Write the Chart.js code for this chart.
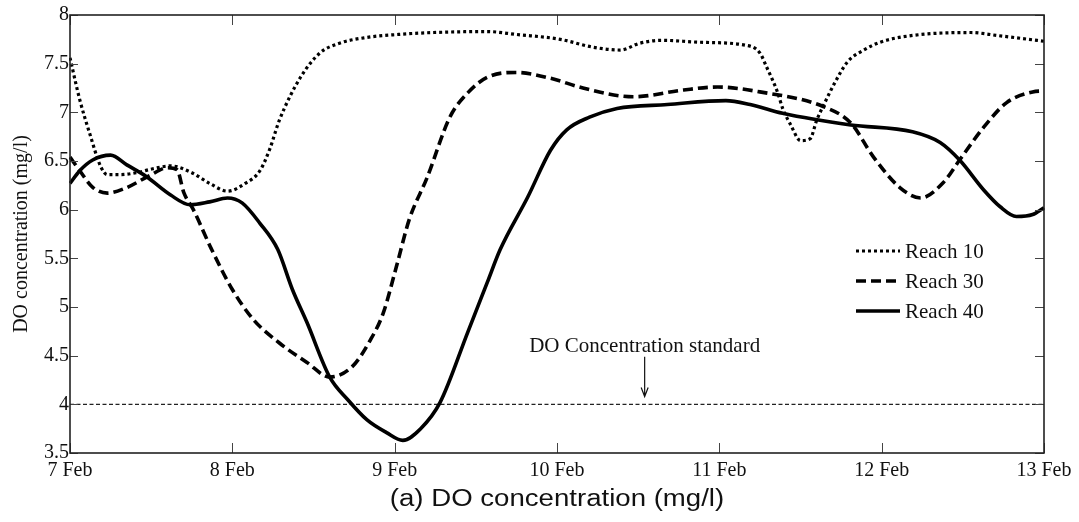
<!DOCTYPE html>
<html>
<head>
<meta charset="utf-8">
<script src="https://cdn.jsdelivr.net/npm/chart.js@4/dist/chart.umd.min.js"></script>
<style>
  html, body { margin: 0; padding: 0; background: #fff; }
  #wrap { width: 1079px; height: 522px; position: relative; }
</style>
</head>
<body>
<div id="wrap"><canvas id="c"></canvas></div>
<script>
// Day offsets from 7 Feb (0 = 7 Feb, 6 = 13 Feb) and DO concentration (mg/l)
const dayLabels = ['7 Feb', '8 Feb', '9 Feb', '10 Feb', '11 Feb', '12 Feb', '13 Feb'];
const yTickValues = [3.5, 4, 4.5, 5, 5.5, 6, 6.5, 7, 7.5, 8];

const reach10Day = [0, 0.06, 0.12, 0.19, 0.23, 0.31, 0.41, 0.51, 0.62, 0.75, 0.86, 0.97, 1.08, 1.17, 1.23, 1.29,
  1.42, 1.54, 1.66, 1.83, 2.02, 2.24, 2.57, 2.75, 3.02, 3.22, 3.39, 3.51, 3.64, 3.88, 4.16, 4.25, 4.29, 4.36,
  4.39, 4.44, 4.50, 4.56, 4.60, 4.65, 4.71, 4.79, 4.89, 4.99, 5.19, 5.55, 5.71, 6];
const reach10DO = [7.56, 7.13, 6.79, 6.44, 6.36, 6.36, 6.38, 6.42, 6.45, 6.38, 6.27, 6.19, 6.27, 6.40, 6.62, 6.92,
  7.36, 7.61, 7.71, 7.77, 7.80, 7.82, 7.83, 7.80, 7.75, 7.67, 7.64, 7.71, 7.74, 7.72, 7.69, 7.61, 7.47, 7.20,
  7.04, 6.87, 6.71, 6.73, 6.92, 7.10, 7.30, 7.52, 7.64, 7.72, 7.79, 7.82, 7.79, 7.73];

const reach30Day = [0, 0.06, 0.14, 0.23, 0.34, 0.49, 0.60, 0.66, 0.70, 0.76, 0.87, 1.00, 1.13, 1.29, 1.46, 1.60,
  1.74, 1.85, 1.93, 2.01, 2.09, 2.20, 2.34, 2.45, 2.57, 2.75, 2.96, 3.16, 3.47, 3.78, 3.99, 4.25, 4.64, 4.81,
  4.95, 5.11, 5.24, 5.38, 5.48, 5.63, 5.77, 5.93, 6];
const reach30DO = [6.54, 6.40, 6.23, 6.17, 6.22, 6.35, 6.43, 6.41, 6.18, 6.00, 5.60, 5.18, 4.87, 4.63, 4.43, 4.28,
  4.39, 4.66, 4.94, 5.41, 5.90, 6.33, 6.95, 7.20, 7.36, 7.41, 7.35, 7.25, 7.16, 7.23, 7.26, 7.21, 7.06, 6.89,
  6.54, 6.23, 6.12, 6.28, 6.51, 6.85, 7.10, 7.21, 7.22];

const reach40Day = [0, 0.06, 0.14, 0.25, 0.35, 0.47, 0.62, 0.74, 0.86, 0.97, 1.06, 1.17, 1.28, 1.37, 1.46, 1.60,
  1.71, 1.83, 1.95, 2.05, 2.16, 2.28, 2.45, 2.57, 2.65, 2.82, 2.96, 3.06, 3.20, 3.37, 3.68, 4.04, 4.19, 4.39,
  4.81, 5.19, 5.36, 5.48, 5.63, 5.73, 5.83, 5.93, 6];
const reach40DO = [6.27, 6.40, 6.51, 6.56, 6.46, 6.34, 6.15, 6.05, 6.08, 6.12, 6.07, 5.86, 5.59, 5.18, 4.84, 4.28,
  4.05, 3.84, 3.71, 3.63, 3.75, 4.02, 4.74, 5.25, 5.59, 6.13, 6.61, 6.82, 6.95, 7.04, 7.08, 7.12, 7.08, 6.99,
  6.87, 6.80, 6.69, 6.51, 6.20, 6.03, 5.93, 5.95, 6.02];

const doStandard = 4;
const standardNote = 'DO Concentration standard';
const caption = '(a) DO concentration (mg/l)';

const serif = "'Liberation Serif', 'Times New Roman', serif";
const sans = "'Liberation Sans', Arial, sans-serif";
const ink = '#111';

const toPoints = (days, vals) => days.map((d, i) => ({ x: d, y: vals[i] }));

// Box, inward tick marks, key, the standard-line note and the caption
const decor = {
  id: 'decor',
  afterDatasetsDraw(chart) {
    const { ctx, chartArea: a, scales: { x, y } } = chart;
    ctx.save();
    // inward ticks on all four sides
    ctx.strokeStyle = '#444';
    ctx.lineWidth = 1;
    ctx.beginPath();
    for (let d = 0; d < dayLabels.length; d++) {
      const px = Math.round(x.getPixelForValue(d)) + 0.5;
      ctx.moveTo(px, a.bottom); ctx.lineTo(px, a.bottom - 10);
      ctx.moveTo(px, a.top); ctx.lineTo(px, a.top + 10);
    }
    yTickValues.forEach(v => {
      const py = Math.round(y.getPixelForValue(v)) + 0.5;
      ctx.moveTo(a.left, py); ctx.lineTo(a.left + 8, py);
      ctx.moveTo(a.right, py); ctx.lineTo(a.right - 9, py);
    });
    ctx.stroke();
    // frame
    ctx.strokeStyle = '#222';
    ctx.lineWidth = 1.6;
    ctx.strokeRect(a.left, a.top, a.right - a.left, a.bottom - a.top);

    // note with arrow pointing at the standard line
    const nx = x.getPixelForValue(3.54);
    ctx.fillStyle = ink;
    ctx.font = '21px ' + serif;
    ctx.textAlign = 'center';
    ctx.textBaseline = 'alphabetic';
    ctx.fillText(standardNote, nx, y.getPixelForValue(4.54));
    const y0 = y.getPixelForValue(4.49), y1 = y.getPixelForValue(4.08);
    ctx.strokeStyle = ink;
    ctx.lineWidth = 1.2;
    ctx.beginPath();
    ctx.moveTo(nx, y0); ctx.lineTo(nx, y1);
    ctx.moveTo(nx - 3.5, y1 - 9); ctx.lineTo(nx, y1); ctx.lineTo(nx + 3.5, y1 - 9);
    ctx.stroke();

    // key
    const keyed = chart.data.datasets.filter(ds => ds.inKey);
    keyed.forEach((ds, i) => {
      const ry = 251 + i * 30;
      ctx.strokeStyle = ds.borderColor;
      ctx.lineWidth = ds.borderWidth;
      ctx.setLineDash(ds.borderDash || []);
      ctx.beginPath();
      ctx.moveTo(856, ry); ctx.lineTo(900, ry);
      ctx.stroke();
      ctx.setLineDash([]);
      ctx.fillStyle = ink;
      ctx.textAlign = 'left';
      ctx.textBaseline = 'middle';
      ctx.font = '21px ' + serif;
      ctx.fillText(ds.label, 905, ry + 1);
    });

    // caption under the axes, slightly widened lettering
    ctx.fillStyle = ink;
    ctx.font = '23px ' + sans;
    ctx.textAlign = 'center';
    ctx.textBaseline = 'middle';
    ctx.translate((a.left + a.right) / 2, 500);
    ctx.scale(1.2, 1);
    ctx.fillText(caption, 0, 0);
    ctx.restore();
  }
};

const lineBase = { pointRadius: 0, fill: false, cubicInterpolationMode: 'monotone', borderColor: '#000', clip: 1 };

new Chart(document.getElementById('c'), {
  type: 'line',
  data: {
    datasets: [
      { ...lineBase, label: 'Reach 10', inKey: true, data: toPoints(reach10Day, reach10DO),
        borderWidth: 3.2, borderDash: [3, 3] },
      { ...lineBase, label: 'Reach 30', inKey: true, data: toPoints(reach30Day, reach30DO),
        borderWidth: 3.6, borderDash: [10, 5] },
      { ...lineBase, label: 'Reach 40', inKey: true, data: toPoints(reach40Day, reach40DO),
        borderWidth: 3.6 },
      { ...lineBase, label: 'DO standard', inKey: false,
        data: [{ x: 0, y: doStandard }, { x: dayLabels.length - 1, y: doStandard }],
        borderWidth: 1.4, borderDash: [4, 2.5], borderColor: '#222' }
    ]
  },
  options: {
    responsive: true,
    maintainAspectRatio: false,
    animation: false,
    events: [],
    layout: { padding: { top: 15, right: 35, left: 0, bottom: 0 } },
    plugins: {
      legend: { display: false },
      tooltip: { enabled: false },
      title: { display: false }
    },
    scales: {
      x: {
        type: 'linear',
        min: 0,
        max: dayLabels.length - 1,
        grid: { display: false, drawTicks: false, tickLength: 0 },
        border: { display: false },
        afterFit: s => { s.height = 69; },
        ticks: {
          stepSize: 1,
          autoSkip: false,
          maxRotation: 0,
          padding: 6,
          color: ink,
          font: { family: serif, size: 20 },
          callback: v => dayLabels[v]
        }
      },
      y: {
        min: 3.5,
        max: 8,
        grid: { display: false, drawTicks: false, tickLength: 0 },
        border: { display: false },
        afterFit: s => { s.width = 70; },
        afterBuildTicks: s => { s.ticks = yTickValues.map(v => ({ value: v })); },
        title: {
          display: true,
          text: 'DO concentration (mg/l)',
          color: ink,
          font: { family: serif, size: 20 },
          padding: { top: 10, bottom: 0 }
        },
        ticks: {
          padding: 1,
          color: ink,
          font: { family: serif, size: 20 },
          callback: v => String(v)
        }
      }
    }
  },
  plugins: [decor]
});
</script>
</body>
</html>
